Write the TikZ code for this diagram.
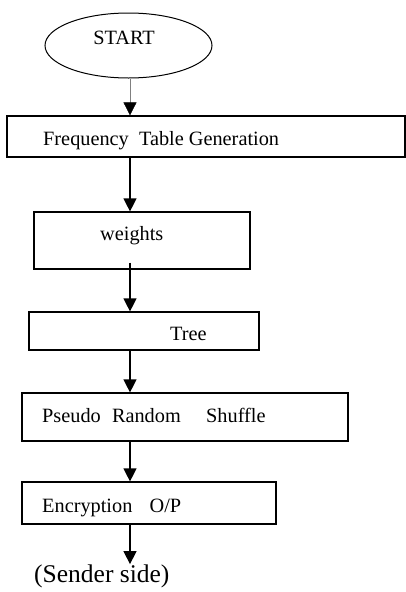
\documentclass[tikz,border=0pt]{standalone}
\usepackage{fontspec}
\setmainfont{Liberation Serif}
\usetikzlibrary{arrows.meta,shapes.geometric,positioning}

\tikzset{
	box/.style={draw, line width=1.2pt, rectangle, inner sep=0pt},
	startshape/.style={draw, line width=1pt, ellipse, inner sep=0pt, minimum width=167pt, minimum height=65pt},
	txt/.style={inner sep=0pt, font=\fontsize{20.3}{24}\selectfont},
	flow/.style={line width=1.3pt, -{Triangle[width=13pt,length=13pt]}},
}

\begin{document}
\begin{tikzpicture}[x=1pt, y=-1pt]
			\useasboundingbox (0,0) rectangle (406,592);
			\coordinate (spine) at (130, 0);
			
			\node[startshape] (start) at (128.5, 45.5) {};
			\node[txt, anchor=base] (starttxt) at (124, 44) {START};
			
			\node[box, minimum width=398pt, minimum height=41pt] (freq) at (206, 136.5) {};
			\node[box, minimum width=216pt, minimum height=57pt] (weights) at (142, 240.5) {};
			\node[box, minimum width=230pt, minimum height=38pt] (tree) at (144, 331) {};
			\node[box, minimum width=326pt, minimum height=48pt] (shuffle) at (185, 417) {};
			\node[box, minimum width=254pt, minimum height=42pt] (enc) at (149, 503) {};
			
			\node[txt, anchor=base west] (freqtxt) at (43, 145) {Frequency\hspace{0.5em}Table Generation};
			\node[txt, anchor=base west] (weightstxt) at (100, 240) {weights};
			\node[txt, anchor=base west] (treetxt) at (170, 340) {Tree};
			\node[txt, anchor=base west] (shuffletxt) at (42, 422) {Pseudo\hspace{0.55em}Random\hspace{1.25em}Shuffle};
			\node[txt, anchor=base west] (enctxt) at (42, 512) {Encryption\hspace{0.85em}O/P};
			\node[inner sep=0pt, anchor=base west, font=\fontsize{25.5}{30}\selectfont] (sender) at (34, 582) {(Sender side)};
			
			\draw[line width=0.5pt, draw=gray, -{Triangle[width=13pt,length=13pt,color=black]}] (start.south -| spine) -- (freq.north -| spine);
			\draw[flow] (freq.south -| spine) -- (weights.north -| spine);
			\draw[flow] ([yshift=7pt]weights.south -| spine) -- (tree.north -| spine);
			\draw[flow] (tree.south -| spine) -- (shuffle.north -| spine);
			\draw[flow] (shuffle.south -| spine) -- (enc.north -| spine);
			\draw[flow] (enc.south -| spine) -- (sender.north -| spine);
		\end{tikzpicture}
\end{document}
